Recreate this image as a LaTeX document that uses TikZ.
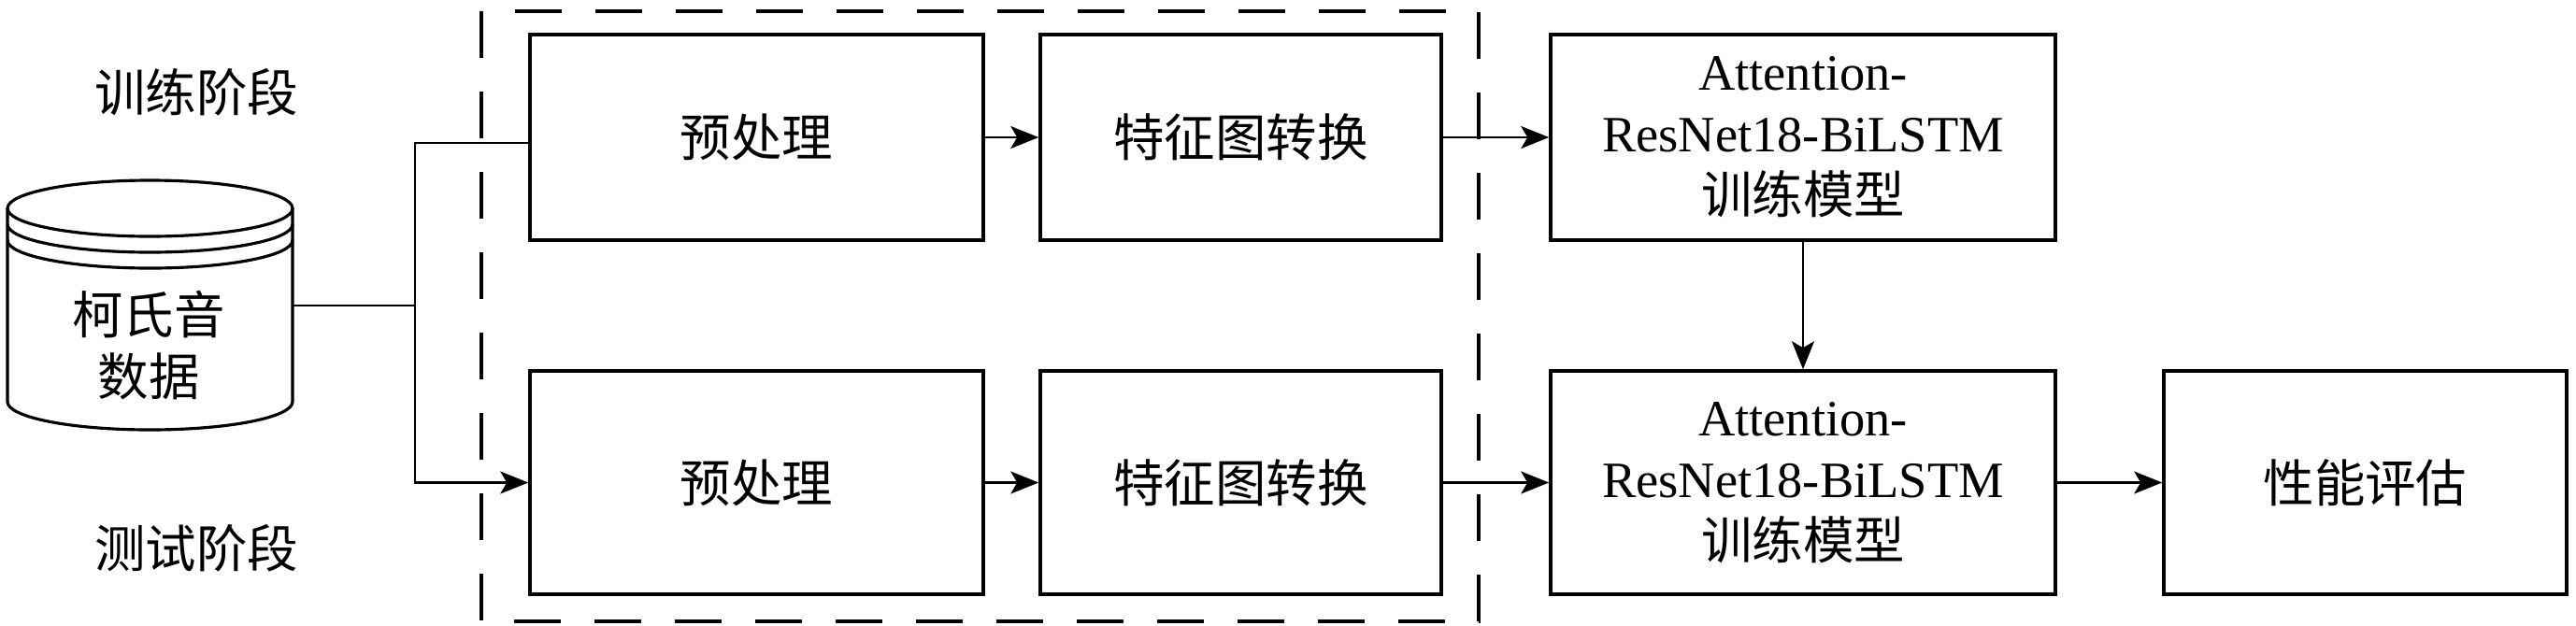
\documentclass[tikz,border=0pt]{standalone}
\usepackage{fontspec}
\setmainfont{Liberation Serif}
\newfontfamily\cjk{Noto Sans CJK SC}
\usetikzlibrary{arrows.meta}

\begin{document}
\begin{tikzpicture}[>={Stealth[length=3mm,width=2.4mm,inset=0.7mm]},
    line width=0.62pt,
    txt/.style={font=\fontsize{15.5}{18.8}\selectfont,align=center},
    box/.style={txt,draw,line width=1pt,minimum height=2.2cm},
    lowbox/.style={box,minimum height=2.39cm}]
        \useasboundingbox (0,0) rectangle (27.56,-6.69);
        % data cylinder
        \begin{scope}[line width=0.9pt]
            \draw (1.605,-2.23) ellipse [x radius=1.525,y radius=0.3];
            \draw (0.08,-2.40) arc[start angle=180,end angle=360,x radius=1.525,y radius=0.3];
            \draw (0.08,-2.57) arc[start angle=180,end angle=360,x radius=1.525,y radius=0.3];
            \draw (0.08,-2.23)--(0.08,-4.30) arc[start angle=180,end angle=360,x radius=1.525,y radius=0.3]--(3.13,-2.23);
        \end{scope}
        \node[txt] (data) at (1.59,-3.695) {\cjk 柯氏音\\\cjk 数据};
        \coordinate (dataout) at (3.13,-3.27);
        \coordinate (split) at (4.44,-3.27);
        % stage labels
        \node[txt] (train) at (2.10,-0.99) {\cjk 训练阶段};
        \node[txt] (test) at (2.10,-5.87) {\cjk 测试阶段};
        % dashed frame
        \draw[line width=1pt,dash pattern=on 5mm off 3.6mm] (5.15,-0.12) rectangle (15.82,-6.65);
        % training row
        \node[box,minimum width=4.85cm] (pre1) at (8.095,-1.47) {\cjk 预处理};
        \node[box,minimum width=4.29cm] (feat1) at (13.275,-1.47) {\cjk 特征图转换};
        \node[box,minimum width=5.4cm] (att1) at (19.29,-1.47) {Attention-\\ResNet18-BiLSTM\\\cjk 训练模型};
        % testing row
        \node[lowbox,minimum width=4.85cm] (pre2) at (8.095,-5.165) {\cjk 预处理};
        \node[lowbox,minimum width=4.29cm] (feat2) at (13.275,-5.165) {\cjk 特征图转换};
        \node[lowbox,minimum width=5.4cm] (att2) at (19.29,-5.165) {Attention-\\ResNet18-BiLSTM\\\cjk 训练模型};
        \node[lowbox,minimum width=4.31cm] (eval) at (25.305,-5.165) {\cjk 性能评估};
        % connectors
        \draw (dataout)--(split) |- ([yshift=-0.6mm]pre1.west);
        \draw[->] (split) |- (pre2.west);
        \draw[->] (pre1)--(feat1);
        \draw[->] (feat1)--(att1);
        \draw[->] (pre2)--(feat2);
        \draw[->] (feat2)--(att2);
        \draw[->] (att1)--(att2);
        \draw[->] (att2)--(eval);
    \end{tikzpicture}
\end{document}
